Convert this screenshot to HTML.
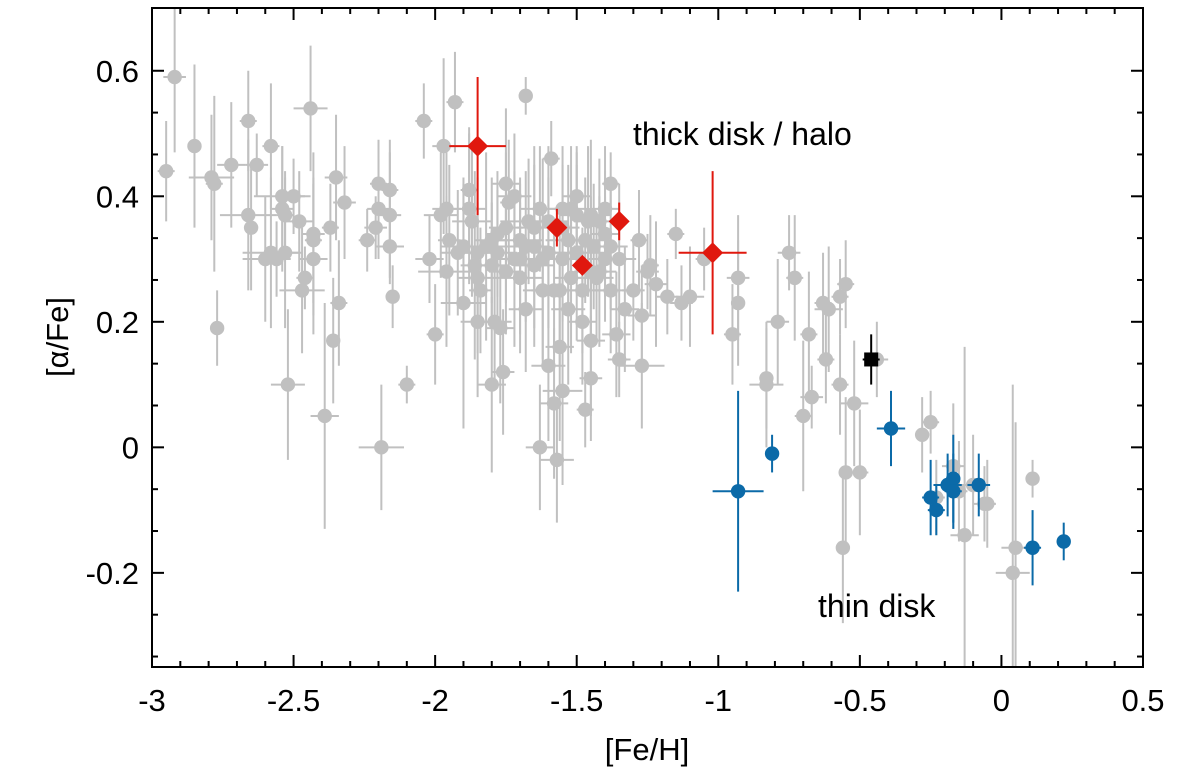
<!DOCTYPE html>
<html><head><meta charset="utf-8"><style>
html,body{margin:0;padding:0;background:#fff;}
svg{display:block;font-family:"Liberation Sans",Arial,sans-serif;}
</style></head><body>
<svg id="chart" width="1200" height="773"></svg>
<script>
const xTicks=[-3,-2.5,-2,-1.5,-1,-0.5,0,0.5];
const xTickLabels=["-3","-2.5","-2","-1.5","-1","-0.5","0","0.5"];
const yTicks=[-0.2,0,0.2,0.4,0.6];
const yTickLabels=["-0.2","0","0.2","0.4","0.6"];
// gray sample: [feh, alpha, xerr, yerr]
const graySample=[
[-2.95,0.44,0.03,0.08],[-2.92,0.59,0.04,0.12],[-2.85,0.48,0.02,0.13],[-2.79,0.43,0.08,0.1],[-2.78,0.42,0.03,0.14],[-2.77,0.19,0.02,0.06],
[-2.72,0.45,0.05,0.1],[-2.66,0.52,0.03,0.08],[-2.66,0.37,0.1,0.12],[-2.65,0.35,0.02,0.1],[-2.63,0.45,0.04,0.05],[-2.6,0.30,0.08,0.1],
[-2.58,0.48,0.03,0.1],[-2.58,0.31,0.1,0.12],[-2.56,0.30,0.05,0.06],[-2.54,0.40,0.1,0.08],[-2.54,0.38,0.04,0.1],[-2.53,0.37,0.03,0.07],
[-2.53,0.31,0.06,0.12],[-2.52,0.10,0.06,0.12],[-2.5,0.40,0.04,0.06],[-2.48,0.36,0.05,0.08],[-2.47,0.25,0.08,0.1],[-2.46,0.27,0.03,0.05],
[-2.44,0.54,0.06,0.1],[-2.43,0.34,0.04,0.13],[-2.43,0.33,0.03,0.1],[-2.43,0.30,0.05,0.12],[-2.39,0.05,0.05,0.18],[-2.37,0.35,0.03,0.07],
[-2.36,0.17,0.02,0.1],[-2.35,0.43,0.04,0.1],[-2.34,0.23,0.03,0.1],[-2.32,0.39,0.04,0.09],[-2.24,0.33,0.03,0.05],[-2.21,0.35,0.04,0.05],
[-2.2,0.42,0.03,0.07],[-2.2,0.38,0.04,0.08],[-2.19,0.0,0.08,0.1],[-2.16,0.41,0.03,0.08],[-2.16,0.37,0.04,0.1],[-2.16,0.32,0.05,0.06],
[-2.15,0.24,0.02,0.05],[-2.1,0.10,0.03,0.03],[-2.04,0.52,0.03,0.06],[-2.02,0.30,0.05,0.07],[-2.0,0.18,0.03,0.08],[-1.98,0.37,0.06,0.1],
[-1.97,0.48,0.04,0.14],[-1.96,0.28,0.1,0.12],[-1.95,0.33,0.04,0.12],[-1.93,0.55,0.03,0.08],[-1.9,0.23,0.08,0.2],[-1.88,0.41,0.03,0.1],
[-1.87,0.36,0.07,0.12],[-1.86,0.29,0.05,0.15],[-1.85,0.20,0.06,0.12],[-1.84,0.25,0.04,0.1],[-1.82,0.32,0.1,0.15],[-1.8,0.10,0.05,0.14],
[-1.79,0.20,0.06,0.1],[-1.78,0.34,0.04,0.1],[-1.77,0.19,0.05,0.12],[-1.76,0.12,0.04,0.1],[-1.75,0.42,0.05,0.12],[-1.74,0.39,0.03,0.1],
[-1.72,0.30,0.06,0.14],[-1.7,0.27,0.08,0.12],[-1.68,0.56,0.02,0.03],[-1.68,0.22,0.06,0.1],[-1.67,0.36,0.1,0.1],[-1.65,0.32,0.05,0.16],
[-1.63,0.0,0.05,0.1],[-1.63,0.38,0.07,0.1],[-1.62,0.30,0.06,0.16],[-1.6,0.13,0.06,0.12],[-1.59,0.46,0.03,0.06],[-1.58,0.07,0.05,0.12],
[-1.57,-0.02,0.06,0.1],[-1.56,0.25,0.1,0.12],[-1.56,0.16,0.05,0.15],[-1.55,0.09,0.07,0.15],[-1.55,0.38,0.05,0.1],[-1.53,0.33,0.08,0.12],
[-1.52,0.27,0.06,0.12],[-1.5,0.40,0.05,0.08],[-1.5,0.31,0.1,0.14],[-1.48,0.25,0.08,0.1],[-1.47,0.06,0.03,0.06],[-1.46,0.36,0.05,0.12],
[-1.45,0.11,0.04,0.1],[-1.45,0.17,0.05,0.12],[-1.44,0.32,0.07,0.1],[-1.42,0.28,0.06,0.12],[-1.4,0.34,0.05,0.1],[-1.38,0.42,0.03,0.05],
[-1.38,0.25,0.06,0.1],[-1.36,0.18,0.05,0.1],[-1.35,0.14,0.04,0.06],[-1.33,0.22,0.05,0.1],[-1.3,0.25,0.04,0.08],[-1.28,0.33,0.03,0.08],
[-1.27,0.21,0.05,0.08],[-1.27,0.13,0.08,0.1],[-1.25,0.28,0.04,0.06],[-1.24,0.29,0.03,0.08],[-1.22,0.26,0.04,0.1],[-1.18,0.24,0.04,0.06],
[-1.15,0.34,0.03,0.04],[-1.13,0.23,0.04,0.06],[-1.1,0.24,0.05,0.08],[-1.05,0.30,0.03,0.05],[-0.95,0.18,0.03,0.08],[-0.93,0.27,0.04,0.1],
[-0.93,0.23,0.02,0.1],[-0.83,0.11,0.02,0.08],[-0.83,0.10,0.06,0.1],[-0.79,0.20,0.04,0.1],[-0.75,0.31,0.04,0.06],[-0.73,0.27,0.03,0.1],
[-0.7,0.05,0.03,0.12],[-0.68,0.18,0.03,0.1],[-0.67,0.08,0.04,0.05],[-0.63,0.23,0.03,0.08],[-0.62,0.14,0.03,0.07],[-0.61,0.22,0.05,0.1],
[-0.57,0.24,0.03,0.06],[-0.55,0.26,0.03,0.07],[-0.57,0.10,0.03,0.08],[-0.55,-0.04,0.02,0.12],[-0.56,-0.16,0.02,0.12],[-0.52,0.07,0.05,0.1],
[-0.5,-0.04,0.03,0.1],[-0.44,0.14,0.04,0.06],[-0.28,0.02,0.02,0.06],[-0.25,0.04,0.03,0.05],[-0.23,-0.08,0.03,0.06],[-0.17,-0.03,0.04,0.1],
[-0.15,-0.07,0.03,0.08],[-0.13,-0.14,0.05,0.3],[-0.1,-0.06,0.05,0.08],[-0.06,-0.09,0.04,0.06],[-0.05,-0.09,0.03,0.07],[0.04,-0.2,0.06,0.3],
[0.05,-0.16,0.05,0.2],[0.11,-0.05,0.02,0.03],
[-1.9,0.32,0.08,0.1],[-1.85,0.31,0.07,0.12],[-1.8,0.33,0.06,0.1],[-1.75,0.35,0.06,0.12],[-1.7,0.33,0.08,0.1],[-1.65,0.35,0.06,0.1],
[-1.6,0.36,0.07,0.12],[-1.55,0.35,0.06,0.1],[-1.5,0.37,0.06,0.1],[-1.45,0.37,0.07,0.12],[-1.4,0.30,0.06,0.1],[-1.45,0.28,0.06,0.12],
[-1.55,0.30,0.08,0.1],[-1.6,0.31,0.06,0.12],[-1.65,0.29,0.07,0.1],[-1.7,0.30,0.06,0.12],[-1.8,0.29,0.06,0.1],[-1.85,0.27,0.07,0.12],
[-1.75,0.28,0.06,0.1],[-1.52,0.38,0.06,0.1],[-1.47,0.33,0.07,0.1],[-1.42,0.36,0.06,0.1],[-1.62,0.25,0.07,0.12],[-1.58,0.25,0.06,0.1],
[-1.53,0.22,0.06,0.12],[-1.48,0.2,0.05,0.1],[-1.43,0.27,0.06,0.1],[-1.78,0.31,0.07,0.1],[-1.68,0.32,0.06,0.12],[-1.92,0.31,0.06,0.1],
[-1.96,0.38,0.05,0.1],[-1.88,0.38,0.06,0.12],[-1.72,0.4,0.06,0.1],[-1.4,0.38,0.05,0.1],[-1.35,0.3,0.06,0.12],[-1.38,0.32,0.06,0.1]
];
const thinDisk=[[-0.93,-0.07,0.09,0.16],[-0.81,-0.01,0.01,0.03],[-0.39,0.03,0.05,0.06],[-0.25,-0.08,0.03,0.06],[-0.23,-0.1,0.03,0.04],
[-0.19,-0.06,0.05,0.05],[-0.17,-0.05,0.02,0.07],[-0.17,-0.07,0.03,0.06],[-0.08,-0.06,0.04,0.05],[0.11,-0.16,0.03,0.06],[0.22,-0.15,0.01,0.03]];
const thickDisk=[[-1.85,0.48,0.1,0.11],[-1.57,0.35,0.02,0.03],[-1.48,0.29,0.02,0.01],[-1.35,0.36,0.02,0.03],[-1.02,0.31,0.12,0.13]];
const target=[[-0.46,0.14,0.03,0.04]];

const L=152,R=1143,T=8,B=667,X0=-3,X1=0.5,Y0=-0.35,Y1=0.7;
const sx=v=>L+(v-X0)/(X1-X0)*(R-L);
const sy=v=>B-(v-Y0)/(Y1-Y0)*(B-T);
const svg=document.getElementById('chart');
const NS='http://www.w3.org/2000/svg';
function mk(tag,attrs,parent){const e=document.createElementNS(NS,tag);for(const k in attrs)e.setAttribute(k,attrs[k]);(parent||svg).appendChild(e);return e;}

function errBars(data,color,g,w){
  data.forEach(d=>{
    const ln1=mk('line',{x1:sx(d[0]-d[2]),x2:sx(d[0]+d[2]),y1:sy(d[1]),y2:sy(d[1]),stroke:color,'stroke-width':w},g);
    
    
    const ln2=mk('line',{x1:sx(d[0]),x2:sx(d[0]),y1:sy(d[1]-d[3]),y2:sy(d[1]+d[3]),stroke:color,'stroke-width':w},g);
    
    
  });
}
const clip=mk('clipPath',{id:'pc'});mk('rect',{x:L,y:T,width:R-L,height:B-T},clip);
const gGray=mk('g',{'clip-path':'url(#pc)'});


errBars(graySample,'#c0c0c0',gGray,2);
graySample.forEach(d=>{const c=mk('circle',{cx:sx(d[0]),cy:sy(d[1]),r:7.2,fill:'#c0c0c0'},gGray);

});

const gBlue=mk('g',{'clip-path':'url(#pc)'});


errBars(thinDisk,'#0b6aa8',gBlue,2);
thinDisk.forEach(d=>{const c=mk('circle',{cx:sx(d[0]),cy:sy(d[1]),r:7.2,fill:'#0b6aa8'},gBlue);

});

const gRed=mk('g',{'clip-path':'url(#pc)'});


errBars(thickDisk,'#e0180e',gRed,2);
thickDisk.forEach(d=>{const x=sx(d[0]),y=sy(d[1]),s=10.5;
const p=mk('polygon',{points:`${x},${y-s} ${x+s},${y} ${x},${y+s} ${x-s},${y}`,fill:'#e0180e'},gRed);

});

const gBlk=mk('g',{});


errBars(target,'#000',gBlk,2);
target.forEach(d=>{const r=mk('rect',{x:sx(d[0])-7,y:sy(d[1])-7,width:14,height:14,fill:'#000'},gBlk);

});

const frame=mk('rect',{x:L,y:T,width:R-L,height:B-T,fill:'none',stroke:'#000','stroke-width':2});


for(let i=0;i<=35;i++){const v=X0+i*0.1,x=sx(v);const major=i%5===0;const len=major?12:6;
 mk('line',{x1:x,x2:x,y1:B,y2:B-len,stroke:'#000','stroke-width':2});
 mk('line',{x1:x,x2:x,y1:T,y2:T+len,stroke:'#000','stroke-width':2});}
for(let i=0;i<=15;i++){const v=-0.4+i*0.2/3;if(v<Y0-1e-9||v>Y1+1e-9)continue;const y=sy(v);const major=i%3===0;const len=major?12:6;
 mk('line',{x1:L,x2:L+len,y1:y,y2:y,stroke:'#000','stroke-width':2});
 mk('line',{x1:R,x2:R-len,y1:y,y2:y,stroke:'#000','stroke-width':2});}
xTicks.forEach((v,i)=>{const t=mk('text',{x:sx(v),y:711,'text-anchor':'middle','font-size':31,fill:'#000'});t.textContent=xTickLabels[i];

});
yTicks.forEach((v,i)=>{const t=mk('text',{x:139,y:sy(v)+11,'text-anchor':'end','font-size':31,fill:'#000'});t.textContent=yTickLabels[i];

});
</script>
<svg style="position:absolute;left:0;top:0" width="1200" height="773">
<text x="647" y="760" text-anchor="middle" font-size="31" font-family="Liberation Sans,sans-serif">[Fe/H]</text>
<text transform="translate(68,337) rotate(-90)" text-anchor="middle" font-size="31" font-family="Liberation Sans,sans-serif">[α/Fe]</text>
<text x="633" y="145" font-size="32" font-family="Liberation Sans,sans-serif">thick disk / halo</text>
<text x="818" y="617" font-size="32" font-family="Liberation Sans,sans-serif">thin disk</text>
</svg>
</body></html>
